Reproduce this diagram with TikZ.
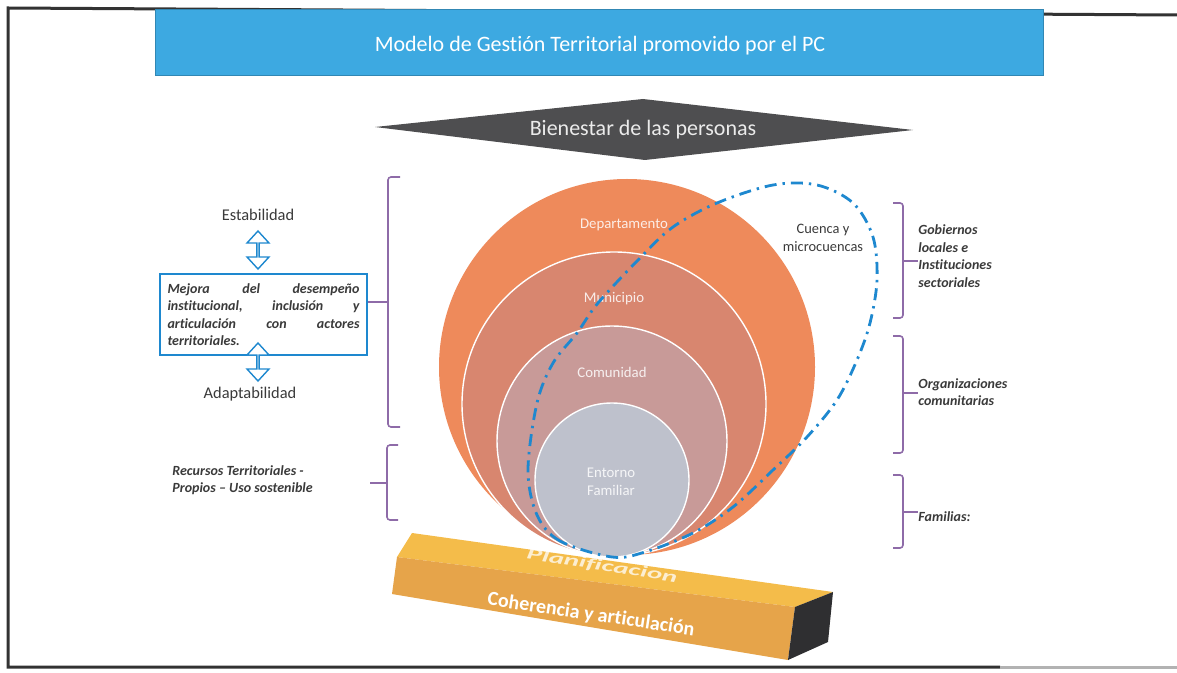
\documentclass[tikz,border=0pt]{standalone}
\usepackage{fontspec}
\setmainfont{Carlito}[Ligatures=NoCommon]
\usetikzlibrary{shapes.arrows}
\definecolor{pcblue}{HTML}{3DA9E1}
\definecolor{hexgray}{HTML}{4E4E50}
\definecolor{depcol}{HTML}{EE8A5B}
\definecolor{muncol}{HTML}{D8866F}
\definecolor{comcol}{HTML}{C89A98}
\definecolor{famcol}{HTML}{BEC1CC}
\definecolor{loopblue}{HTML}{1E88CF}
\definecolor{brkcol}{HTML}{8E6BA8}
\definecolor{txtgray}{HTML}{3A3A3A}
\definecolor{topface}{HTML}{F4BC4A}
\definecolor{frontface}{HTML}{E6A44A}
\definecolor{endface}{HTML}{2F2F31}
\begin{document}
\begin{tikzpicture}[x=0.5pt , y=-0.5pt , every node/.style={inner sep=0pt} ,
    frame/.style={line width=1.5pt , draw=black!80} ,
    ring/.style={circle , minimum size=#1 , outer sep=0pt , draw=white , line width=0.7pt} ,
    ringlbl/.style={text=white , text opacity=0.85 , font=\fontsize{7.4}{8.8}\selectfont , align=center} ,
    sidelbl/.style={text=txtgray , font=\fontsize{8.2}{10}\selectfont} ,
    actor/.style={text=txtgray , font=\fontsize{7}{8.75}\selectfont\bfseries\itshape , align=left , anchor=west} ,
    brk/.style={draw=brkcol , line width=0.8pt , rounded corners=1.5pt} ,
    dblarrow/.style={double arrow , draw=loopblue , fill=white , line width=0.7pt , rotate=90 ,
        minimum height=19pt , minimum width=11pt , double arrow head extend=3.3pt ,
        double arrow tip angle=85 , double arrow head indent=0pt}]
    \useasboundingbox (0,0) rectangle (1177,673);
    % frame
    \draw[frame] (1177,15) -- (8,8) -- (8,667) -- (1000,667);
    \draw[frame , draw=black!30] (1000,667) -- (1177,667);
    % title
    \node [rectangle , fill=pcblue , draw=pcblue!80!black , line width=0.4pt , minimum width=444pt , minimum height=33pt] (title) at (599,42) {};
    \node [text=white , font=\fontsize{11}{13}\selectfont] (titlelbl) at (600,46) {Modelo de Gestión Territorial promovido por el PC};
    % bienestar
    \fill[hexgray] (375,127) -- (643,99) -- (913,130) -- (645,160) -- cycle;
    \node [text=white!92!black , font=\fontsize{11}{13}\selectfont] (bien) at (643,130) {Bienestar de las personas};
    % circles
    \node [ring=188pt , fill=depcol , draw=none] (dep) at (627,367) {};
    \node [ring=152pt , fill=muncol] (mun) at (614,404) {};
    \node [ring=115pt , fill=comcol] (com) at (612,441) {};
    \node [ring=77pt , fill=famcol] (fam) at (612,480) {};
    \node [ringlbl] (deplbl) at (624,225) {Departamento};
    \node [ringlbl] (munlbl) at (614,299) {Municipio};
    \node [ringlbl] (comlbl) at (612,372) {Comunidad};
    \node [ringlbl] (famlbl) at (611,482) {Entorno\\Familiar};
    % cuenca
    \draw[loopblue , line width=1.4pt , dash pattern=on 6pt off 3pt on 1.2pt off 3pt]
        plot[smooth cycle , tension=0.55] coordinates {(612,557) (560,541) (537,515) (528,470) (537,403) (553,363) (577,333) (598,303) (640,258) (673,227) (717,203) (773,185) (817,185) (853,203) (873,237) (877,280) (870,323) (857,360) (837,400) (807,437) (773,470) (733,507) (693,533) (645,552)};
    \node [text=txtgray , font=\fontsize{7.2}{9}\selectfont , align=center] (cuenca) at (823,238) {Cuenca y\\microcuencas};
    % left side
    \node [sidelbl] (estab) at (258,215) {Estabilidad};
    \node [dblarrow] (arrup) at (258,250) {};
    \node [rectangle , draw=loopblue , line width=0.8pt , fill=white , minimum width=103.5pt , minimum height=40.5pt ,
        text width=96pt , align=left , text=txtgray , font=\fontsize{7}{8.75}\selectfont\bfseries\itshape] (mejora) at (263.5,314.5)
        {Mejora\hfill del\hfill desempeño\\institucional,\hfill inclusión\hfill y\\articulación\hfill con\hfill actores\\territoriales.};
    \node [dblarrow] (arrdown) at (258,362) {};
    \node [sidelbl] (adapt) at (250,394) {Adaptabilidad};
    \node [actor] (recursos) at (172,480) {Recursos Territoriales -\\Propios – Uso sostenible};
    % brackets left
    \coordinate (lb1) at (388,302);
    \coordinate (lb2) at (387,483);
    \draw[brk] (400,177) -- (388,177) -- (388,427) -- (400,427);
    \draw[brk] (lb1) -- (lb1 -| mejora.east);
    \draw[brk] (398,445) -- (387,445) -- (387,520) -- (398,520);
    \draw[brk] (lb2) -- (370,483);
    % brackets right
    \node [actor] (gob) at (918,256) {Gobiernos\\locales e\\Instituciones\\sectoriales};
    \node [actor] (org) at (918,392) {Organizaciones\\comunitarias};
    \node [actor] (famil) at (918,517) {Familias:};
    \draw[brk] (893,203) -- (903,203) -- (903,318) -- (893,318);
    \draw[brk] (903,261) -- (gob.west |- 903,261);
    \draw[brk] (893,336) -- (903,336) -- (903,453) -- (893,453);
    \draw[brk] (903,393) -- (org.west |- 903,393);
    \draw[brk] (893,475) -- (903,475) -- (903,548) -- (893,548);
    \draw[brk] (903,512) -- (famil.west |- 903,512);
    % base
    \fill[topface] (412,533) -- (833,592) -- (795,607) -- (397,557) -- cycle;
    \fill[frontface] (397,557) -- (795,607) -- (788,660) -- (392,594) -- cycle;
    \fill[endface] (795,607) -- (833,592) -- (828,642) -- (788,660) -- cycle;
    \node [text=white , text opacity=0.75 , rotate=-9 , xscale=1.8 , font=\fontsize{8}{10}\selectfont\bfseries\itshape] (plan) at (602,566) {Planificacion};
    \node [text=white , rotate=-8.5 , font=\fontsize{10}{12}\selectfont\bfseries] (coher) at (591,615) {Coherencia y articulación};
\end{tikzpicture}
\end{document}
